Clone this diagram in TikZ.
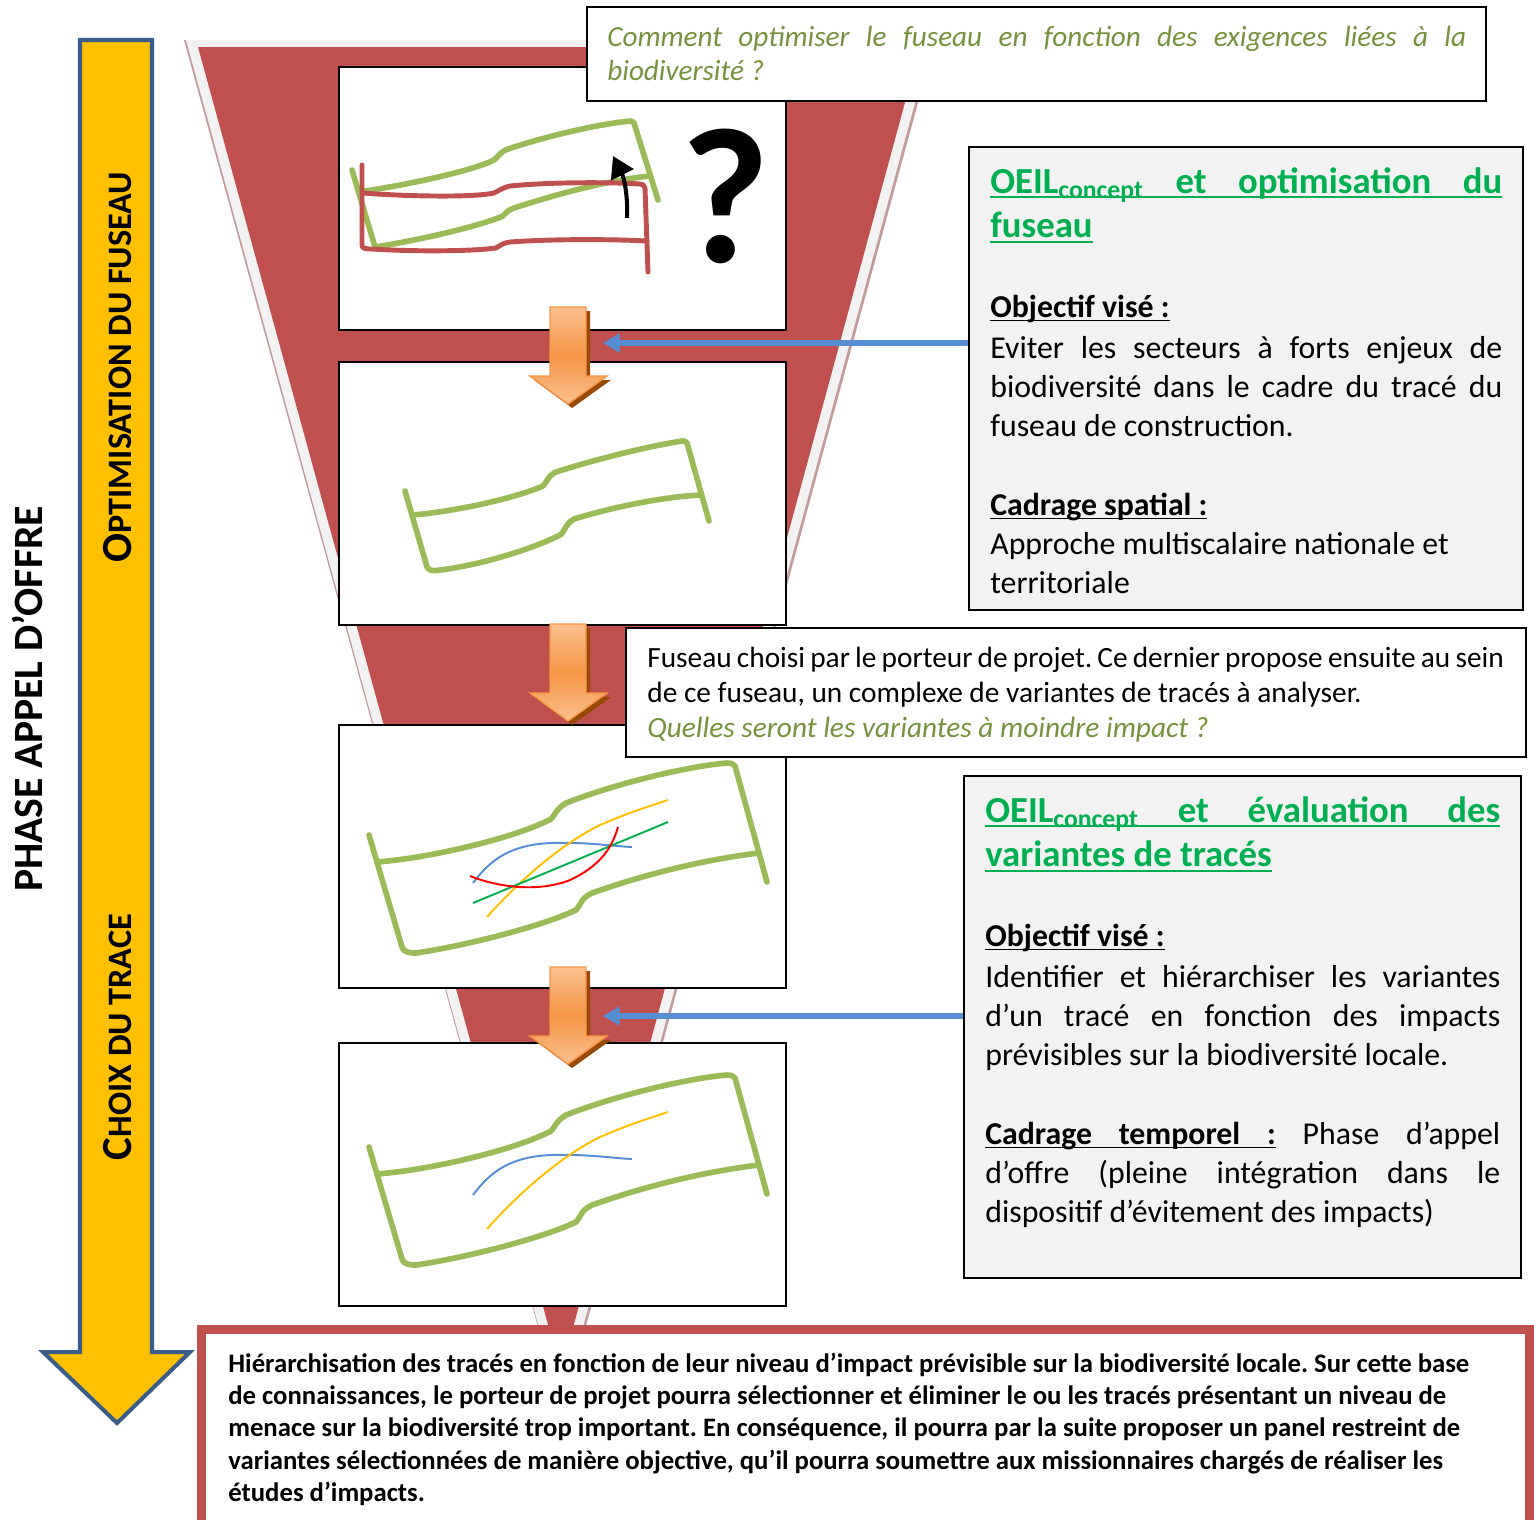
\documentclass[tikz,border=0pt]{standalone}
\usepackage{fontspec}
\setmainfont{Carlito}
\usetikzlibrary{arrows.meta}

\definecolor{funnelred}{HTML}{C0504D}
\definecolor{funnelgray}{HTML}{F2F2F2}
\definecolor{funnelshadow}{HTML}{C39A9A}
\definecolor{fuseaugreen}{HTML}{9BBB59}
\definecolor{qgreen}{HTML}{76923C}
\definecolor{titlegreen}{HTML}{00B050}
\definecolor{boxgray}{HTML}{F2F2F2}
\definecolor{phaseyellow}{HTML}{FFC000}
\definecolor{phaseblue}{HTML}{385D8A}
\definecolor{linkblue}{HTML}{558ED5}
\definecolor{stepor}{HTML}{F79646}
\definecolor{steporlight}{HTML}{FAC090}
\definecolor{stepshadow}{HTML}{984807}
\definecolor{varblue}{HTML}{558ED5}
\definecolor{varyellow}{HTML}{FFC000}
\definecolor{vargreen}{HTML}{00B050}
\definecolor{varred}{HTML}{FF0000}

% soulignements
\newcommand{\uword}[1]{\leavevmode\setbox0\hbox{#1}\rlap{\rule[-0.14em]{\wd0}{0.06em}}\box0}
\newcommand{\usp}{\leaders\hrule height -0.08em depth 0.14em\hskip\fontdimen2\font plus\fontdimen3\font minus\fontdimen4\font\relax}

\tikzset{
  panel/.style={draw=black, fill=white, line width=1.1pt, minimum width=8.94cm, minimum height=5.26cm, inner sep=0pt},
  whitebox/.style={draw=black, fill=white, line width=1.1pt, inner sep=0pt},
  infobox/.style={draw=black, fill=boxgray, line width=1.3pt, inner sep=0pt},
  summarybox/.style={draw=funnelred, fill=white, line width=4.5pt, inner sep=0pt},
  fuseau/.style={draw=fuseaugreen, line width=3.2pt, line cap=round, line join=round},
  ribbon/.style={draw=funnelred, line width=2.8pt, line cap=round, line join=round},
  varline/.style={line width=1.1pt},
  turnarrow/.style={line width=2.3pt, -{Triangle[length=12pt,width=14pt]}},
  stepdown/.style={draw=stepor, line width=0.8pt, top color=steporlight, bottom color=steporlight, middle color=stepor},
  phasearrow/.style={draw=phaseblue, fill=phaseyellow, line width=2.3pt, line join=miter},
  link/.style={draw=linkblue, line width=3.2pt, -{Triangle[length=9.5pt,width=10.5pt]}},
  phaselabel/.style={rotate=90, anchor=base, inner sep=0pt, font=\fontsize{23.7}{26}\selectfont\bfseries},
  steplabel/.style={rotate=90, anchor=base, inner sep=0pt, font=\fontsize{19.5}{22}\selectfont\bfseries},
  qtext/.style={anchor=base west, inner sep=0pt, text width=17.18cm, align=justify, font=\fontsize{16.6}{19.8}\selectfont\itshape, text=qgreen},
  boxtitle/.style={anchor=base west, inner sep=0pt, align=justify, font=\fontsize{20.9}{25.5}\selectfont\bfseries, text=titlegreen},
  boxbody/.style={anchor=base west, inner sep=0pt, align=justify, font=\fontsize{18.1}{22.3}\selectfont},
  midtext/.style={anchor=base west, inner sep=0pt, text width=18.6cm, align=flush left, font=\fontsize{16.7}{20.1}\selectfont\frenchspacing},
  summarytext/.style={anchor=base west, inner sep=0pt, text width=27cm, align=flush left, font=\fontsize{15.2}{18.4}\selectfont\bfseries\frenchspacing}
}

\begin{document}
\begin{tikzpicture}[x=0.02cm, y=-0.02cm]
\useasboundingbox (0,0) rectangle (1534,1519);

% entonnoir
\fill[funnelshadow] (184,40) -- (935,40) -- (562,1414) -- cycle;
\fill[funnelgray] (186,40) -- (932,40) -- (561,1408) -- cycle;
\fill[funnelred] (198,47) -- (920,47) -- (561,1372) -- cycle;

% fleche de phase
\draw[phasearrow] (80,40) -- (152,40) -- (152,1352) -- (190,1352) -- (117,1423) -- (43,1352) -- (80,1352) -- cycle;
\node[phaselabel] (phase) at (42,699) {PHASE APPEL D’OFFRE};
\node[steplabel] (optim) at (131,367) {{\fontsize{24.4}{26}\selectfont O}PTIMISATION DU FUSEAU};
\node[steplabel] (choix) at (131,1037) {{\fontsize{24.4}{26}\selectfont C}HOIX DU TRACE};

% vignettes
\node[panel] (p1) at (562.5,198.5) {};
\node[panel] (p2) at (562.5,493.5) {};
\node[panel] (p3) at (562.5,856.5) {};
\node[panel] (p4) at (562.5,1174.5) {};

% vignette 1
\draw[fuseau] (352,170) -- (375,247);
\draw[fuseau] (359,192) .. controls (400,186) and (470,172) .. (494,160) .. controls (499,156) and (500,152) .. (508,149) .. controls (550,135) and (600,124) .. (630,121) .. controls (632,121) and (633,122) .. (634,123) -- (658,200);
\draw[fuseau] (375,247) .. controls (420,240) and (480,226) .. (503,216) .. controls (507,212) and (508,210) .. (514,208) .. controls (560,193) and (610,180) .. (650,176);
\draw[ribbon] (362,165) -- (362,245) .. controls (362,248) and (364,249) .. (372,249) .. controls (420,252) and (475,251) .. (496,248) .. controls (501,245) and (503,243) .. (510,242) .. controls (550,239) and (610,239) .. (647,241);
\draw[ribbon] (363,193) .. controls (400,196) and (470,198) .. (494,193) .. controls (500,190) and (502,188) .. (510,186) .. controls (550,182) and (610,182) .. (640,184) .. controls (643,184) and (644,185) .. (645,188) -- (648,272);
\draw[turnarrow] (627,218) .. controls (628,195) and (624,178) .. (613,156);
\node[inner sep=0pt, font=\fontsize{110}{110}\selectfont\bfseries] (qmark) at (725,196) {?};

% vignette 2
\draw[fuseau] (405,491) -- (427,567) .. controls (429,571) and (433,571) .. (440,570) .. controls (480,565) and (530,550) .. (560,535) .. controls (566,530) and (565,524) .. (574,519) .. controls (610,508) and (660,497) .. (701,495);
\draw[fuseau] (412,515) .. controls (450,512) and (510,500) .. (543,486) .. controls (548,480) and (548,476) .. (556,472) .. controls (600,458) and (650,446) .. (682,441) .. controls (684,441) and (686,441) .. (687,443) -- (709,521);

% vignette 3
\draw[fuseau] (369,835) -- (402,947) .. controls (404,952) and (408,953) .. (416,953) .. controls (470,945) and (545,925) .. (576,910) .. controls (581,905) and (580,899) .. (592,893) .. controls (640,876) and (700,860) .. (759,853);
\draw[fuseau] (377,862) .. controls (430,858) and (515,838) .. (551,819) .. controls (556,814) and (555,810) .. (566,803) .. controls (620,782) and (690,766) .. (727,763) .. controls (731,763) and (734,764) .. (735,766) -- (767,882);
\draw[varline, varblue] (473,883) .. controls (490,860) and (510,845) .. (550,843) .. controls (590,842) and (610,846) .. (632,847);
\draw[varline, varyellow] (487,917) .. controls (520,880) and (560,845) .. (600,825) .. controls (630,812) and (650,806) .. (668,800);
\draw[varline, vargreen] (473,903) -- (668,822);
\draw[varline, varred] (470,876) .. controls (500,888) and (540,892) .. (570,880) .. controls (600,866) and (612,848) .. (618,827);

% vignette 4
\begin{scope}[shift={(0,312)}]
\draw[fuseau] (369,835) -- (402,947) .. controls (404,952) and (408,953) .. (416,953) .. controls (470,945) and (545,925) .. (576,910) .. controls (581,905) and (580,899) .. (592,893) .. controls (640,876) and (700,860) .. (759,853);
\draw[fuseau] (377,862) .. controls (430,858) and (515,838) .. (551,819) .. controls (556,814) and (555,810) .. (566,803) .. controls (620,782) and (690,766) .. (727,763) .. controls (731,763) and (734,764) .. (735,766) -- (767,882);
\draw[varline, varblue] (473,883) .. controls (490,860) and (510,845) .. (550,843) .. controls (590,842) and (610,846) .. (632,847);
\draw[varline, varyellow] (487,917) .. controls (520,880) and (560,845) .. (600,825) .. controls (630,812) and (650,806) .. (668,800);
\end{scope}

% questions
\node[whitebox, minimum width=17.98cm, minimum height=1.88cm] (qbox) at (1036.5,54) {};
\node[qtext] (question) at (607,46) {Comment optimiser le fuseau en fonction des exigences liées à la\linebreak biodiversité ?};
\node[whitebox, minimum width=18cm, minimum height=2.58cm] (mbox) at (1076,692.5) {};
\node[midtext] (choisi) at (647,667) {{\spaceskip=0.78\fontdimen2\font Fuseau choisi par le porteur de projet. Ce dernier propose ensuite au sein}\\de ce fuseau, un complexe de variantes de tracés à analyser.\\{\itshape\color{qgreen}Quelles seront les variantes à moindre impact ?}};

% fleches orange
\fill[stepshadow] (554,311) -- (590,311) -- (590,380) -- (611,380) -- (572,408) -- (534,380) -- (554,380) -- cycle;
\path[stepdown] (550,307) -- (586,307) -- (586,376) -- (607,376) -- (568,404) -- (530,376) -- (550,376) -- cycle;
\fill[stepshadow] (554,628) -- (590,628) -- (590,697) -- (611,697) -- (572,725) -- (534,697) -- (554,697) -- cycle;
\path[stepdown] (550,624) -- (586,624) -- (586,693) -- (607,693) -- (568,721) -- (530,693) -- (550,693) -- cycle;
\fill[stepshadow] (554,971) -- (590,971) -- (590,1040) -- (611,1040) -- (572,1068) -- (534,1040) -- (554,1040) -- cycle;
\path[stepdown] (550,967) -- (586,967) -- (586,1036) -- (607,1036) -- (568,1064) -- (530,1036) -- (550,1036) -- cycle;

% encadres OEIL
\node[infobox, minimum width=11.08cm, minimum height=9.26cm] (box1) at (1246,378.5) {};
\node[boxtitle, text width=10.24cm] (title1) at (990,193) {\uword{OEIL\textsubscript{concept}}\usp\uword{et}\usp\uword{optimisation}\usp\uword{du}\linebreak\uword{fuseau}};
\node[boxbody, text width=10.24cm] (body1) at (990,317) {\textbf{\uword{Objectif visé :}}\par\vspace{1.2pt}
Eviter les secteurs à forts enjeux de\linebreak biodiversité dans le cadre du tracé du\linebreak fuseau de construction.\par\vspace{22.3pt}
\textbf{\uword{Cadrage spatial :}}\par
Approche multiscalaire nationale et\newline territoriale};

\node[infobox, minimum width=11.14cm, minimum height=10.04cm] (box2) at (1242.5,1027) {};
\node[boxtitle, text width=10.3cm] (title2) at (985,822) {\uword{OEIL\textsubscript{concept}}\usp\uword{et}\usp\uword{évaluation}\usp\uword{des}\linebreak\uword{variantes}\usp\uword{de}\usp\uword{tracés}};
\node[boxbody, text width=10.3cm] (body2) at (985,946) {\textbf{\uword{Objectif visé :}}\par\vspace{1.2pt}
Identifier et hiérarchiser les variantes\linebreak d’un tracé en fonction des impacts\linebreak prévisibles sur la biodiversité locale.\par\vspace{22.3pt}
\textbf{\uword{Cadrage}\usp\uword{temporel}\usp\uword{:}} Phase d’appel\linebreak d’offre (pleine intégration dans le\linebreak dispositif d’évitement des impacts)};

% liens
\coordinate (tip1) at (603,343);
\coordinate (tip2) at (603,1016);
\draw[link] (box1.west |- tip1) -- (tip1);
\draw[link] (box2.west |- tip2) -- (tip2);

% synthese
\node[summarybox, minimum width=26.58cm, minimum height=4.62cm] (summary) at (865.5,1444.5) {};
\draw[funnelred, line width=0.9pt] ([shift={(8,8)}]summary.north west) rectangle ([shift={(-8,-8)}]summary.south east);
\node[summarytext] (synthese) at (228,1372) {Hiérarchisation des tracés en fonction de leur niveau d’impact prévisible sur la biodiversité locale. Sur cette base\\de connaissances, le porteur de projet pourra sélectionner et éliminer le ou les tracés présentant un niveau de\\menace sur la biodiversité trop important. En conséquence, il pourra par la suite proposer un panel restreint de\\variantes sélectionnées de manière objective, qu’il pourra soumettre aux missionnaires chargés de réaliser les\\études d’impacts.};
\end{tikzpicture}
\end{document}
